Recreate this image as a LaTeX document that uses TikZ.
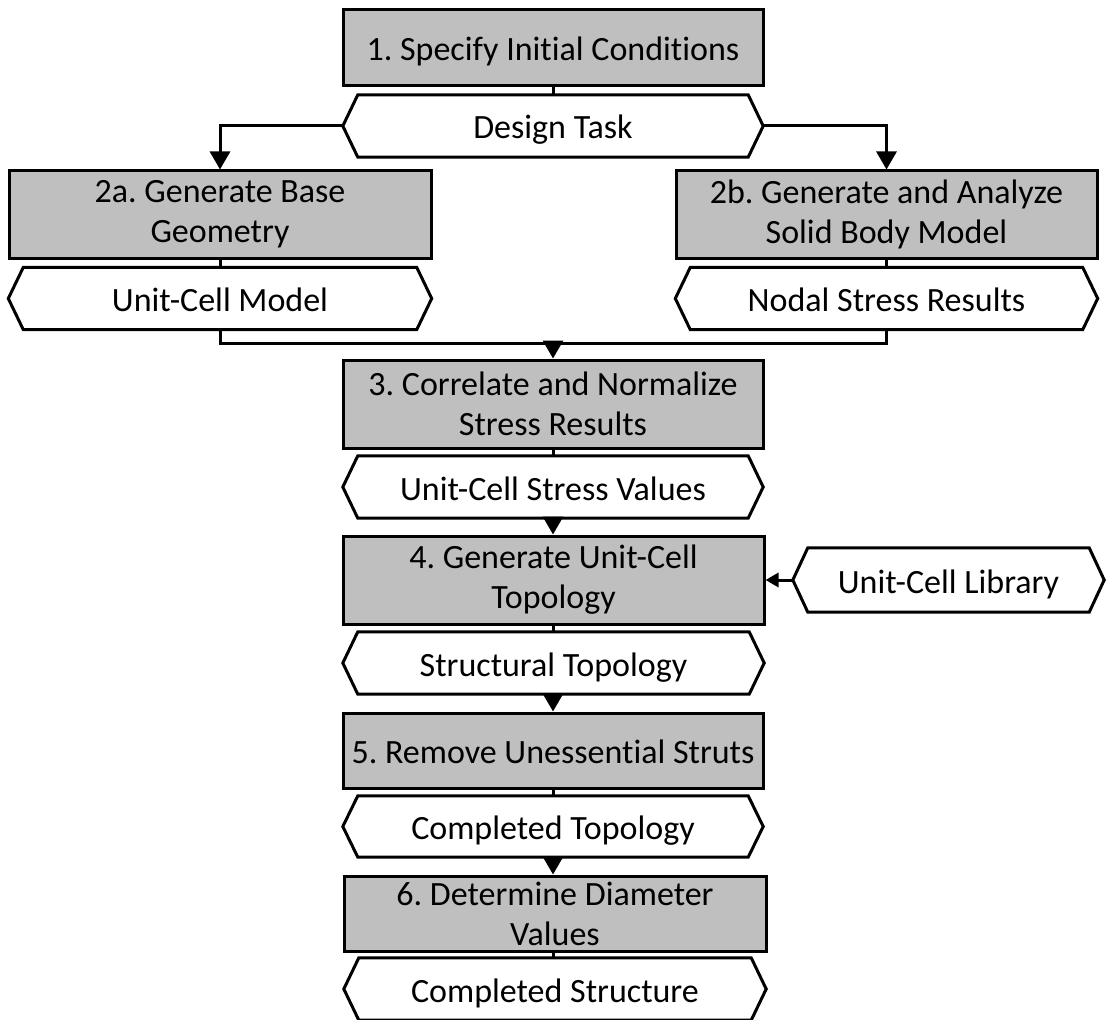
\documentclass[tikz,border=0pt]{standalone}
\usepackage{fontspec}
\setmainfont[Ligatures=NoCommon]{Carlito}
\frenchspacing
\usetikzlibrary{arrows.meta}
\definecolor{stepgray}{HTML}{BFBFBF}
\begin{document}
\begin{tikzpicture}[x=1pt,y=-1pt,
  txt/.style={align=center, inner sep=0pt, font=\fontsize{34}{40}\selectfont},
  oneline/.style={text height=34pt, text depth=8pt},
  stepbox/.style={txt, draw=black, fill=stepgray, line width=3pt},
  data/.style={txt, oneline, minimum height=62pt},
  hexline/.style={draw=black, line width=3pt, line join=miter},
  link/.style={line width=3pt},
  flow/.style={link, -{Triangle[width=20pt,length=18pt]}},
  sideflow/.style={link, -{Triangle[width=14pt,length=13pt]}},
]
\useasboundingbox (0,0) rectangle (1107,1019);

% process steps
\node[stepbox, oneline, minimum width=420pt, minimum height=76pt] (s1) at (553,48) {1. Specify Initial Conditions};
\node[stepbox, minimum width=422pt, minimum height=87pt] (s2a) at (220,214.5) {2a. Generate Base\\Geometry};
\node[stepbox, minimum width=421pt, minimum height=87pt] (s2b) at (886.5,214.5) {2b. Generate and Analyze\\Solid Body Model};
\node[stepbox, minimum width=420pt, minimum height=88pt] (s3) at (553,404) {3. Correlate and Normalize\\Stress Results};
\node[stepbox, minimum width=421pt, minimum height=88pt] (s4) at (553.5,580) {4. Generate Unit-Cell\\Topology};
\node[stepbox, oneline, minimum width=420pt, minimum height=75pt] (s5) at (553,750.5) {5. Remove Unessential Struts};
\node[stepbox, minimum width=422pt, minimum height=75pt] (s6) at (555,913.5) {6. Determine Diameter\\Values};

% data items (hexagons)
\node[data, minimum width=420pt] (dt) at (553,126) {Design Task};
\node[data, minimum width=423pt] (ucm) at (220,298.5) {Unit-Cell Model};
\node[data, minimum width=422pt] (nsr) at (886.5,298.5) {Nodal Stress Results};
\node[data, minimum width=420pt] (ucsv) at (553,487) {Unit-Cell Stress Values};
\node[data, minimum width=421pt] (st) at (553.5,663) {Structural Topology};
\node[data, minimum width=311pt, minimum height=64pt] (lib) at (948.5,580) {Unit-Cell Library};
\node[data, minimum width=420pt, minimum height=61pt] (ct) at (553,826.5) {Completed Topology};
\node[data, minimum width=422pt] (cs) at (555,989) {Completed Structure};

\foreach \n in {dt,ucm,nsr,ucsv,st,lib,ct,cs}
  \draw[hexline] (\n.west) -- ([xshift=15pt]\n.north west) -- ([xshift=-15pt]\n.north east)
    -- (\n.east) -- ([xshift=-15pt]\n.south east) -- ([xshift=15pt]\n.south west) -- cycle;

% connectors
\draw[link] (s1.south) -- (dt.north);
\draw[flow] (dt.west) -| (s2a.north);
\draw[flow] (dt.east) -| (s2b.north);
\draw[link] (s2a.south) -- (s2a.south |- ucm.north);
\draw[link] (s2b.south) -- (s2b.south |- nsr.north);
\coordinate (merge) at (553,343);
\draw[link] (s2a.south |- ucm.south) |- (merge);
\draw[link] (s2b.south |- nsr.south) |- (merge);
\draw[flow] (merge) -- (s3.north);
\draw[link] (s3.south) -- (ucsv.north);
\draw[flow] (ucsv.south) -- (ucsv.south |- s4.north);
\draw[link] (ucsv.south |- s4.south) -- (ucsv.south |- st.north);
\draw[sideflow] (lib.west) -- (s4.east |- lib.west);
\draw[flow] (ucsv.south |- st.south) -- (ucsv.south |- s5.north);
\draw[link] (s5.south) -- (ct.north);
\draw[flow] (ct.south) -- (ct.south |- s6.north);
\draw[link] (ct.south |- s6.south) -- (ct.south |- cs.north);
\end{tikzpicture}
\end{document}
